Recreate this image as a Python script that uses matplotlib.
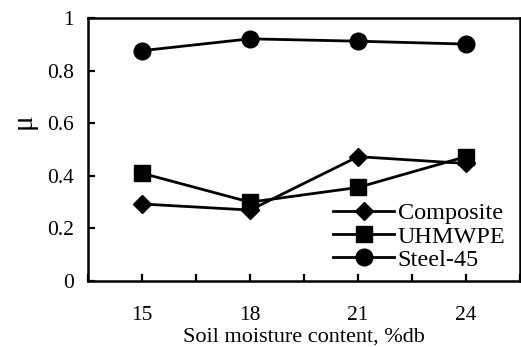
import matplotlib as mpl
mpl.use('Agg')
import matplotlib.pyplot as plt
import numpy as np

plt.rcParams['font.family'] = 'serif'
plt.rcParams['font.serif'] = ['Liberation Serif']

# moisture content, %db
moisture = [15, 18, 21, 24]
composite = [0.293, 0.270, 0.473, 0.447]
uhmwpe = [0.410, 0.300, 0.356, 0.473]
steel45 = [0.876, 0.921, 0.912, 0.901]

fig = plt.figure(figsize=(5.21, 3.47), dpi=100)
ax = fig.add_axes([0.169, 0.190, 0.829, 0.758])

ax.plot(moisture, composite, color='black', lw=2.0, marker='D', ms=9, label='Composite')
ax.plot(moisture, uhmwpe, color='black', lw=2.0, marker='s', ms=11, label='UHMWPE')
ax.plot(moisture, steel45, color='black', lw=2.0, marker='o', ms=12, label='Steel-45')

ax.set_xlim(13.5, 25.5)
ax.set_ylim(0, 1)
xt = np.arange(13.5, 25.6, 1.5)
ax.set_xticks(xt)
ax.set_xticklabels([str(int(t)) if t in moisture else '' for t in xt])
ax.set_yticks([0, 0.2, 0.4, 0.6, 0.8, 1.0])
ax.set_yticklabels(['0', '0.2', '0.4', '0.6', '0.8', '1'])
ax.tick_params(axis='x', direction='in', length=5, width=1.6, pad=18, labelsize=15.5)
ax.tick_params(axis='y', direction='in', length=5, width=1.6, pad=10, labelsize=15.5)
for s in ax.spines.values():
    s.set_linewidth(1.8)

ax.set_xlabel('Soil moisture content, %db', fontsize=16, labelpad=2)
ax.set_ylabel('μ', fontsize=21)
ax.yaxis.set_label_coords(-0.118, 0.608)

ax.legend(loc='lower right', frameon=False, fontsize=17.5, handlelength=2.5,
          borderaxespad=0.05, borderpad=0.1, labelspacing=0.05, handletextpad=0.15,
          bbox_to_anchor=(0.975, 0.025))

fig.savefig('out.png', dpi=100)
